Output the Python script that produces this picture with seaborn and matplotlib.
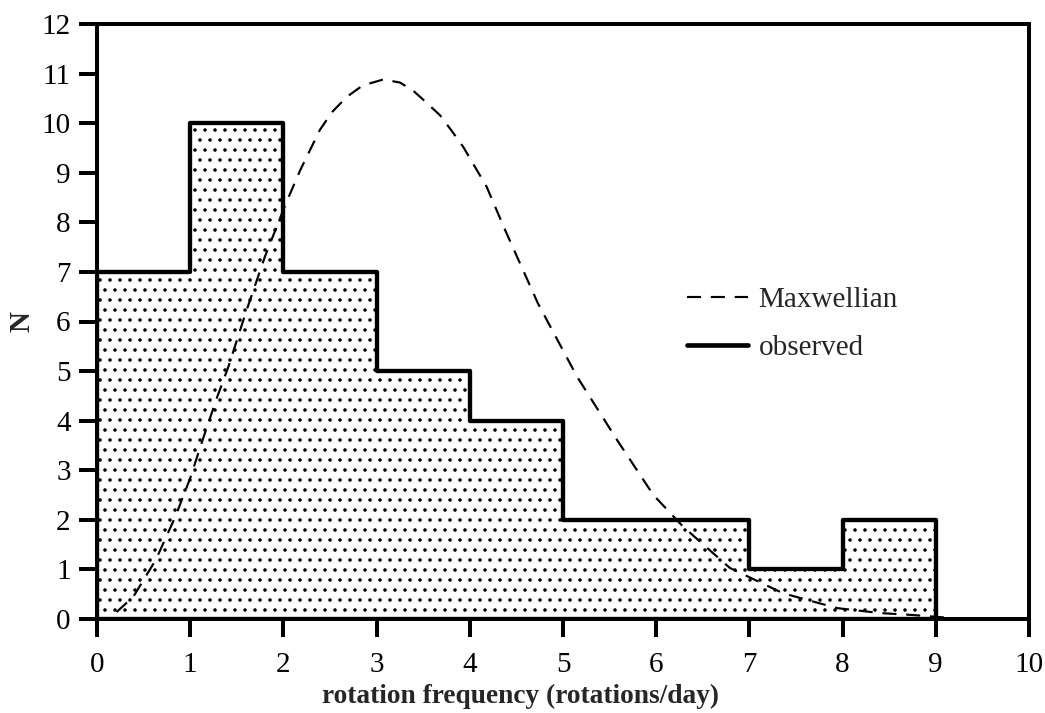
import numpy as np
import pandas as pd
import matplotlib
matplotlib.use("Agg")
import matplotlib.pyplot as plt
import seaborn as sns
from matplotlib.lines import Line2D

# Observed histogram (rotations/day bins)
bin_edges = [0, 1, 2, 3, 4, 5, 6, 7, 8, 9]
bin_centers = [0.5, 1.5, 2.5, 3.5, 4.5, 5.5, 6.5, 7.5, 8.5]
counts = [7, 10, 7, 5, 4, 2, 2, 1, 2]

# Maxwellian curve
maxw_x = [0.21, 0.39, 0.63, 0.84, 1.00, 1.14, 1.29, 1.41, 1.60, 1.80, 2.02, 2.18,
          2.39, 2.52, 2.68, 2.85, 3.07, 3.25, 3.39, 3.52, 3.68, 3.80, 3.93, 4.18,
          4.38, 4.73, 5.15, 5.58, 5.97, 6.29, 6.79, 7.36, 7.94, 8.40, 8.76, 9.10, 9.30]
maxw_y = [0.14, 0.45, 1.19, 2.06, 2.84, 3.65, 4.48, 5.09, 6.20, 7.30, 8.35, 9.05,
          9.86, 10.22, 10.53, 10.76, 10.88, 10.82, 10.66, 10.44, 10.16, 9.86, 9.52, 8.72,
          7.84, 6.37, 4.89, 3.61, 2.50, 1.86, 1.03, 0.52, 0.22, 0.12, 0.08, 0.03, 0.00]

x_ticks = list(range(0, 11))
y_ticks = list(range(0, 13))

sns.set_theme(style="white")
plt.rcParams['font.family'] = ['Liberation Serif', 'DejaVu Serif']
plt.rcParams['hatch.linewidth'] = 0.9
plt.rcParams['hatch.color'] = 'black'

DPI = 120
FS = 17.5
fig = plt.figure(figsize=(1045 / DPI, 713 / DPI), dpi=DPI)
ax = fig.add_axes([97 / 1045, 1 - 619 / 713, (1029 - 97) / 1045, (619 - 24) / 713])

hist_df = pd.DataFrame({"x": bin_centers, "w": counts})
sns.histplot(data=hist_df, x="x", weights="w", bins=bin_edges, element="step",
             fill=True, ax=ax, facecolor="white", edgecolor="black",
             linewidth=2.6, hatch="..", alpha=1)

DASH = (0, (6.5, 4.5))
curve_df = pd.DataFrame({"x": maxw_x, "y": maxw_y})
sns.lineplot(data=curve_df, x="x", y="y", ax=ax, color="black", linewidth=1.3,
             linestyle=DASH, sort=False)

ax.set_xlim(0, 10)
ax.set_ylim(0, 12)
ax.set_xticks(x_ticks)
ax.set_yticks(y_ticks)
for s in ax.spines.values():
    s.set_visible(True)
    s.set_color("black")
    s.set_linewidth(2.4)
ax.tick_params(axis="both", which="major", direction="out", length=10.8, width=2.4,
               color="black", labelsize=FS, labelcolor="black")
ax.tick_params(axis="x", bottom=True, top=False, pad=9)
ax.tick_params(axis="y", left=True, right=False, pad=5)
ax.set_xlabel("rotation frequency (rotations/day)", fontsize=16.4, fontweight="bold")
ax.xaxis.set_label_coords((521 - 97) / 932, (619 - 696) / 595)
ax.xaxis.label.set_verticalalignment("center")
ax.set_ylabel("N", fontsize=FS, fontweight="bold")
ax.yaxis.set_label_coords((22 - 97) / 932, (619 - 322) / 595)
ax.yaxis.label.set_verticalalignment("center")
ax.grid(False)

handles = [Line2D([], [], color="black", linewidth=1.3, linestyle=DASH),
           Line2D([], [], color="black", linewidth=2.8)]
ax.legend(handles, ["Maxwellian", "observed"], loc="center left",
          bbox_to_anchor=((687 - 97) / 932, (619 - 324) / 595), frameon=False,
          fontsize=FS, handlelength=2.1, handletextpad=0.35, labelspacing=0.75,
          borderpad=0, borderaxespad=0)

fig.savefig("out.png", dpi=DPI)
